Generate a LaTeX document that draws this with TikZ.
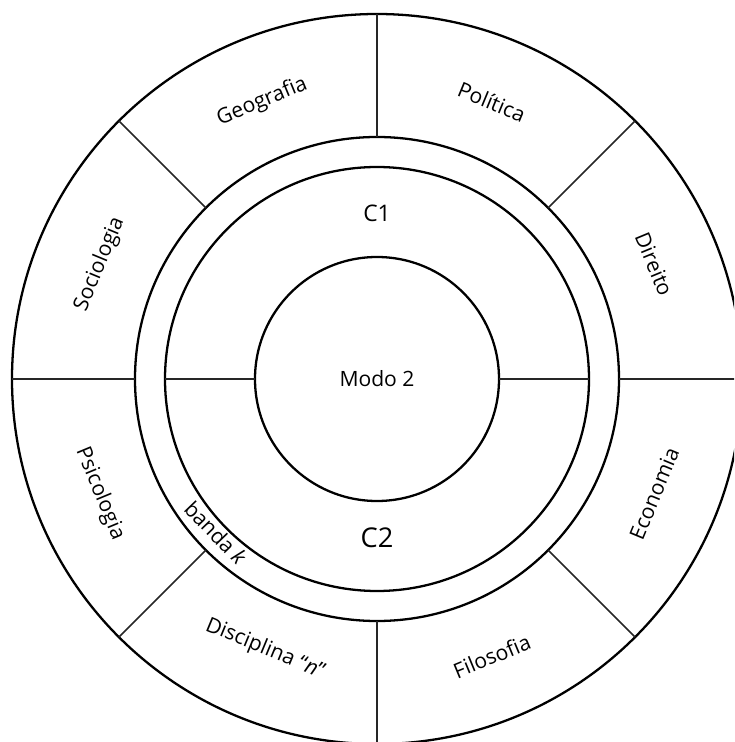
\documentclass[tikz,border=0pt]{standalone}
\usepackage{fontspec}
\setmainfont{Open Sans}
\usetikzlibrary{positioning}
\tikzset{
  anel/.style={draw,circle,line width=1.3pt,inner sep=0pt,outer sep=0pt,font=\fontsize{12}{14}\selectfont},
  raio/.style={line width=0.9pt,draw=black!85},
  rotulo/.style={font=\fontsize{12}{14}\selectfont,inner sep=1pt},
}
\begin{document}
\begin{tikzpicture}
  \path[use as bounding box,clip] (-7.54,-7.26) rectangle (7.14,7.58);
  \node[anel,minimum size=14.6cm] (externo) at (0,0) {};
  \node[anel,minimum size=9.68cm] (bandaext) at (0,0) {};
  \node[anel,minimum size=8.48cm] (bandaint) at (0,0) {};
  \node[anel,minimum size=4.88cm] (modo) at (0,0) {Modo 2};
  \foreach \a in {0,45,...,315}
    \draw[raio] (bandaext.\a) -- (externo.\a);
  \draw[raio] (modo.0) -- (bandaint.0);
  \draw[raio] (modo.180) -- (bandaint.180);
  \node[rotulo,font=\fontsize{13}{15}\selectfont] (c1) at (0,3.32) {C1};
  \node[rotulo,font=\fontsize{15.5}{18}\selectfont] (c2) at (0,-3.18) {C2};
  \node[rotulo,rotate=-46] (banda) at (223.7:4.46) {banda \textit{k}};
  \foreach \a/\txt/\nome in {157.5/Sociologia/soc,112.5/Geografia/geo,67.5/Política/pol,22.5/Direito/dir}
    \node[rotulo,rotate=\a-90] (\nome) at (\a:6.0) {\txt};
  \foreach \a/\txt/\nome/\r in {-22.5/Economia/eco/6.0,-67.5/Filosofia/fil/6.0,
      -112.5/{Disciplina “\textit{n}”}/dis/5.85,-157.5/Psicologia/psi/6.0}
    \node[rotulo,rotate=\a+90] (\nome) at (\a:\r) {\txt};
\end{tikzpicture}
\end{document}
